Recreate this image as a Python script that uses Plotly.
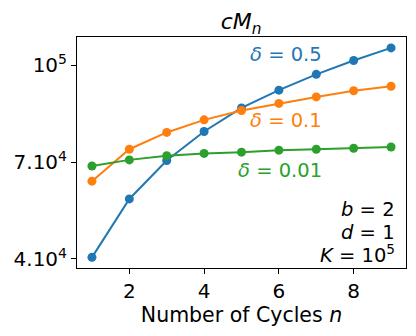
import plotly.graph_objects as go

n = [1, 2, 3, 4, 5, 6, 7, 8, 9]
delta_05 = [40500, 58600, 70500, 79500, 86800, 92300, 97200, 101500, 105400]
delta_01 = [64100, 74000, 79200, 83100, 86000, 88200, 90200, 92100, 93500]
delta_001 = [68800, 70700, 72000, 72700, 73100, 73700, 74000, 74300, 74700]

series_names = ["δ = 0.5", "δ = 0.1", "δ = 0.01"]
colors = ["#1f77b4", "#ff7f0e", "#2ca02c"]

ytick_vals = [40000, 70000, 100000]
ytick_text = ["4.10<sup>4</sup>", "7.10<sup>4</sup>", "10<sup>5</sup>"]
xtick_vals = [2, 4, 6, 8]

FONT = "DejaVu Sans"
OFF = 8  # page body margin
W, H = 416 - OFF, 336 - OFF
L, R, T, B = 77, 405.7, 37, 268  # plot area in window pixels


def px(x):
    return (x - L) / (R - L)


def py(y):
    return (B - y) / (B - T)


fig = go.Figure()
for vals, name, c in zip([delta_05, delta_01, delta_001], series_names, colors):
    fig.add_trace(go.Scatter(
        x=n, y=vals, mode="lines+markers", name=name,
        line=dict(color=c, width=2),
        marker=dict(color=c, size=9),
        showlegend=False,
    ))

annotations = [
    dict(text="<i>δ</i> = 0.5", x=px(286), y=py(54.5), color=colors[0], xa="center"),
    dict(text="<i>δ</i> = 0.1", x=px(286), y=py(120), color=colors[1], xa="center"),
    dict(text="<i>δ</i> = 0.01", x=px(280), y=py(170.5), color=colors[2], xa="center"),
    dict(text="<i>b</i> = 2", x=px(397), y=py(209), color="black", xa="right"),
    dict(text="<i>d</i> = 1", x=px(397), y=py(232), color="black", xa="right"),
    dict(text="<i>K</i> = 10<sup>5</sup>", x=px(397), y=py(254), color="black", xa="right"),
]
for a in annotations:
    fig.add_annotation(
        text=a["text"], x=a["x"], y=a["y"], xref="paper", yref="paper",
        xanchor=a["xa"], yanchor="middle", showarrow=False,
        font=dict(family=FONT, size=19.5, color=a["color"]),
    )

fig.update_layout(
    width=W, height=H,
    margin=dict(l=L - OFF, r=W - (R - OFF), t=T - OFF, b=H - (B - OFF), autoexpand=False),
    paper_bgcolor="white", plot_bgcolor="white",
    font=dict(family=FONT, size=20, color="black"),
    title=dict(text="<i>cM</i><sub><i>n</i></sub>", x=px(241), xref="paper",
               xanchor="center", yref="container", y=1 - (21.5 - OFF) / H, yanchor="middle",
               font=dict(family=FONT, size=22)),
    xaxis=dict(
        range=[0.6, 9.4], tickvals=xtick_vals, ticks="outside", ticklen=5,
        tickwidth=1, tickcolor="black", showgrid=False, zeroline=False,
        showline=True, linecolor="black", linewidth=1, mirror=True,
        tickfont=dict(family=FONT, size=20), automargin=False,
        title=dict(text="Number of Cycles <i>n</i>", font=dict(family=FONT, size=20.5), standoff=4),
    ),
    yaxis=dict(
        range=[37200, 108770], tickvals=ytick_vals, ticktext=ytick_text,
        ticks="outside", ticklen=5, tickwidth=1, tickcolor="black",
        showgrid=False, zeroline=False, showline=True, linecolor="black",
        linewidth=1, mirror=True, tickfont=dict(family=FONT, size=20), automargin=False,
    ),
)

fig.write_html("out.html")
